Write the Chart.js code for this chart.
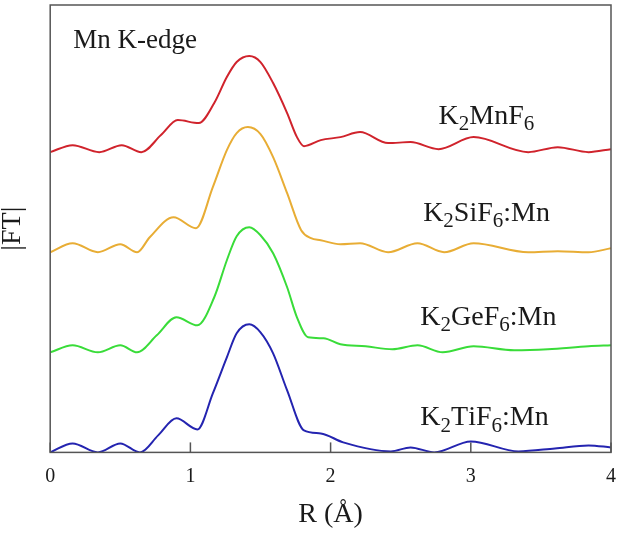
<!DOCTYPE html>
<html>
<head>
<meta charset="utf-8">
<script src="https://cdn.jsdelivr.net/npm/chart.js@4.4.0/dist/chart.umd.min.js"></script>
<style>
  html, body { margin: 0; padding: 0; background: #fff; }
  #wrap { width: 622px; height: 534px; }
</style>
</head>
<body>
<div id="wrap"><canvas id="chart1"></canvas></div>
<script>
// FT magnitude, per sample (R in angstrom)
const mnR  = [0, 0.16, 0.35, 0.51, 0.65, 0.79, 0.91, 1.06, 1.17, 1.26, 1.33, 1.42, 1.50, 1.59, 1.69, 1.76, 1.81, 1.93, 2.07, 2.21, 2.41, 2.57, 2.77, 3.02, 3.41, 3.62, 3.84, 4.00];
const mnFT = [0, 0.07, 0, 0.07, 0, 0.17, 0.32, 0.29, 0.49, 0.75, 0.90, 0.96, 0.90, 0.69, 0.39, 0.15, 0.06, 0.12, 0.15, 0.20, 0.09, 0.10, 0.03, 0.15, 0, 0.05, 0, 0.03];

const siR  = [0, 0.16, 0.34, 0.50, 0.62, 0.71, 0.88, 1.04, 1.16, 1.26, 1.33, 1.41, 1.50, 1.59, 1.69, 1.79, 1.86, 1.93, 2.07, 2.21, 2.41, 2.62, 2.81, 3.02, 3.41, 3.62, 3.84, 4.00];
const siFT = [0, 0.09, 0, 0.08, 0, 0.15, 0.35, 0.24, 0.65, 1.02, 1.19, 1.25, 1.18, 0.95, 0.59, 0.22, 0.14, 0.12, 0.08, 0.09, 0, 0.09, 0, 0.09, 0, 0.01, 0, 0.04];

const geR  = [0, 0.16, 0.34, 0.50, 0.62, 0.76, 0.90, 1.05, 1.17, 1.26, 1.33, 1.42, 1.50, 1.59, 1.69, 1.76, 1.84, 1.95, 2.07, 2.25, 2.44, 2.62, 2.80, 3.02, 3.31, 3.55, 3.84, 4.00];
const geFT = [0, 0.07, 0, 0.07, 0, 0.17, 0.35, 0.27, 0.55, 0.92, 1.16, 1.25, 1.17, 0.99, 0.65, 0.35, 0.15, 0.14, 0.08, 0.06, 0.03, 0.07, 0, 0.06, 0.02, 0.03, 0.06, 0.07];

const tiR  = [0, 0.16, 0.34, 0.50, 0.64, 0.77, 0.90, 1.05, 1.16, 1.26, 1.33, 1.42, 1.50, 1.59, 1.69, 1.81, 1.93, 2.09, 2.43, 2.57, 2.74, 3.00, 3.34, 3.60, 3.84, 4.00];
const tiFT = [0, 0.09, 0, 0.09, 0, 0.17, 0.34, 0.23, 0.59, 0.95, 1.19, 1.28, 1.20, 0.99, 0.62, 0.22, 0.19, 0.10, 0.01, 0.05, 0, 0.11, 0.01, 0.04, 0.07, 0.05];

// sample names, "_" marks a one-character subscript
const names = ['K_2MnF_6', 'K_2SiF_6:Mn', 'K_2GeF_6:Mn', 'K_2TiF_6:Mn'];
const offsets = [3, 2, 1, 0]; // vertical stacking
const xTicks = [0, 1, 2, 3, 4];

const serif = '"Liberation Serif", "Times New Roman", serif';

function stack(r, ft, off) {
    return r.map((x, i) => ({ x: x, y: ft[i] + off }));
}

// draw text like K_2SiF_6 with small lowered digits
function drawSubText(ctx, str, x, y, size) {
    ctx.textBaseline = 'alphabetic';
    ctx.textAlign = 'left';
    let i = 0;
    while (i < str.length) {
        if (str[i] === '_') {
            ctx.font = Math.round(size * 0.76) + 'px ' + serif;
            ctx.fillText(str[i + 1], x, y + size * 0.22);
            x += ctx.measureText(str[i + 1]).width;
            i += 2;
        } else {
            ctx.font = size + 'px ' + serif;
            ctx.fillText(str[i], x, y);
            x += ctx.measureText(str[i]).width;
            i += 1;
        }
    }
}

// frame, inner ticks and the text labels
const decor = {
    id: 'decor',
    afterDraw(chart) {
        const ctx = chart.ctx;
        const a = chart.chartArea;
        const xs = chart.scales.x, ys = chart.scales.y;
        ctx.save();
        ctx.strokeStyle = '#555';
        ctx.lineWidth = 1.5;
        ctx.strokeRect(a.left, a.top, a.right - a.left, a.bottom - a.top);
        xs.ticks.forEach(t => {
            const px = xs.getPixelForValue(t.value);
            ctx.beginPath();
            ctx.moveTo(px, a.bottom);
            ctx.lineTo(px, a.bottom - 10);
            ctx.stroke();
        });
        ctx.fillStyle = '#1a1a1a';
        drawSubText(ctx, 'Mn K-edge', xs.getPixelForValue(0.165), ys.getPixelForValue(4.04), 27);
        const lx = [2.77, 2.66, 2.64, 2.64];
        const ly = [3.28, 2.31, 1.27, 0.27];
        names.forEach((n, i) => {
            drawSubText(ctx, n, xs.getPixelForValue(lx[i]), ys.getPixelForValue(ly[i]), 28);
        });
        ctx.restore();
    }
};

function line(data, color) {
    return {
        data: data,
        borderColor: color,
        borderWidth: 2,
        pointRadius: 0,
        cubicInterpolationMode: 'monotone',
        fill: false
    };
}

const ctx1 = document.getElementById('chart1').getContext('2d');
const ftChart = new Chart(ctx1, {
    type: 'line',
    data: {
        datasets: [
            line(stack(mnR, mnFT, offsets[0]), '#d0232c'),
            line(stack(siR, siFT, offsets[1]), '#e8ad35'),
            line(stack(geR, geFT, offsets[2]), '#39dc39'),
            line(stack(tiR, tiFT, offsets[3]), '#2424b0')
        ]
    },
    options: {
        responsive: true,
        maintainAspectRatio: false,
        animation: false,
        layout: { padding: { left: 0, top: 5, right: 11, bottom: 5 } },
        plugins: { legend: { display: false }, tooltip: { enabled: false } },
        scales: {
            x: {
                type: 'linear',
                min: 0,
                max: 4,
                afterBuildTicks: s => { s.ticks = xTicks.map(v => ({ value: v })); },
                afterFit: s => { s.paddingLeft = 0; s.paddingRight = 0; },
                grid: { display: false, drawTicks: false },
                border: { display: false },
                ticks: { color: '#1a1a1a', padding: 12, maxRotation: 0, font: { family: serif, size: 20 } },
                title: {
                    display: true,
                    text: 'R (Å)',
                    color: '#1a1a1a',
                    padding: { top: 0.6, bottom: 0 },
                    font: { family: serif, size: 28, lineHeight: 1.0 }
                }
            },
            y: {
                min: 0,
                max: 4.47,
                grid: { display: false, drawTicks: false },
                border: { display: false },
                ticks: { display: false },
                title: {
                    display: true,
                    text: '|FT|',
                    color: '#1a1a1a',
                    padding: { top: 0, bottom: 25 },
                    font: { family: serif, size: 28, lineHeight: 0.9 }
                }
            }
        }
    },
    plugins: [decor]
});
</script>
</body>
</html>
